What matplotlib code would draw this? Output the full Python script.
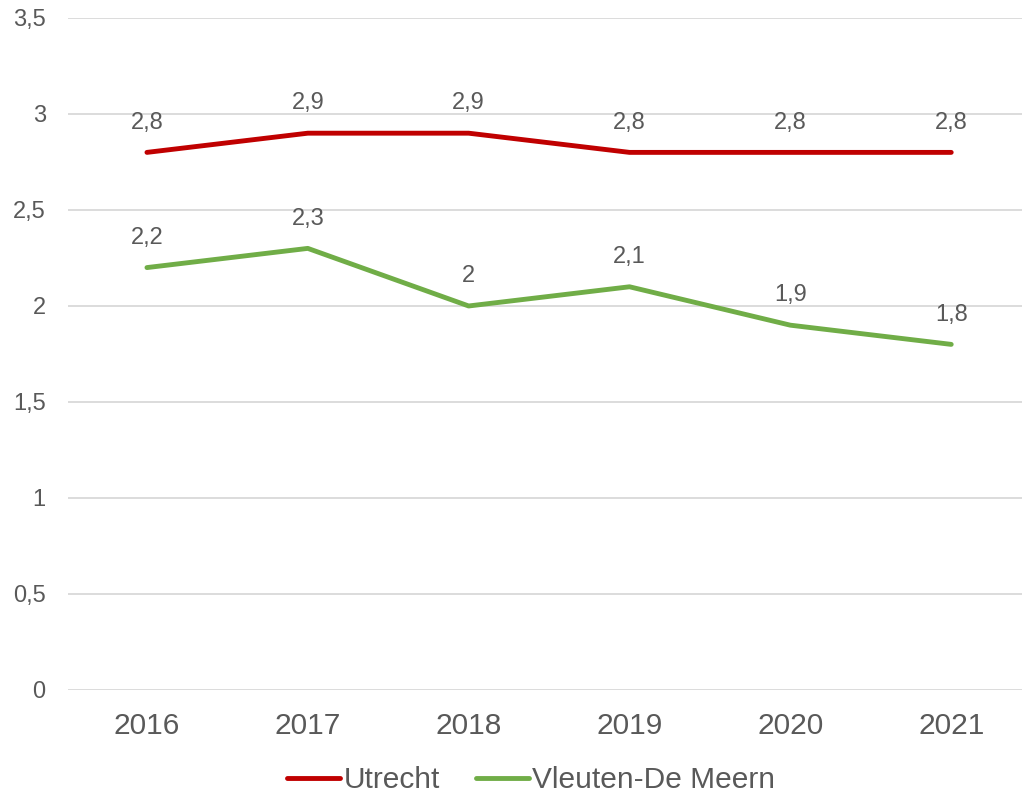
import numpy as np
import matplotlib.pyplot as plt
from matplotlib.ticker import FuncFormatter

plt.rcParams["font.family"] = ["Liberation Sans", "DejaVu Sans"]

years = ["2016", "2017", "2018", "2019", "2020", "2021"]
utrecht = [2.8, 2.9, 2.9, 2.8, 2.8, 2.8]
vleuten = [2.2, 2.3, 2.0, 2.1, 1.9, 1.8]
series_names = ["Utrecht", "Vleuten-De Meern"]
colors = ["#C00000", "#70AD47"]
yticks = [0, 0.5, 1, 1.5, 2, 2.5, 3, 3.5]

TEXT = "#595959"


def nl(v):
    return f"{v:g}".replace(".", ",")


fig = plt.figure(figsize=(10.22, 7.96), dpi=100)
ax = fig.add_axes([0.0665, 0.1332, 0.9335, 0.8442])

x = np.arange(len(years))
for vals, name, col in zip([utrecht, vleuten], series_names, colors):
    ax.plot(x, vals, color=col, lw=3.5, label=name, solid_capstyle="round")
    for xi, v in zip(x, vals):
        ax.annotate(nl(v), (xi, v), xytext=(0, 21.5), textcoords="offset points",
                    ha="center", va="center", fontsize=17, color=TEXT)

ax.set_xlim(-0.491, 5.44)
ax.set_ylim(0, 3.5)
ax.set_yticks(yticks)
ax.yaxis.set_major_formatter(FuncFormatter(lambda v, p: nl(v)))
ax.set_xticks(x)
ax.set_xticklabels(years)
ax.tick_params(axis="y", length=0, pad=16, labelsize=17, labelcolor=TEXT)
ax.tick_params(axis="x", length=0, pad=16, labelsize=21.5, labelcolor=TEXT)
ax.grid(axis="y", color="#D9D9D9", lw=1.3)
ax.set_axisbelow(True)
for s in ax.spines.values():
    s.set_visible(False)

fig.legend(loc="center", bbox_to_anchor=(531 / 1022, 1 - 780 / 796), ncol=2, frameon=False,
           fontsize=21.5, handlelength=1.8, handletextpad=0.1, columnspacing=1.2,
           labelcolor=TEXT)

fig.savefig("out.png", dpi=100)
